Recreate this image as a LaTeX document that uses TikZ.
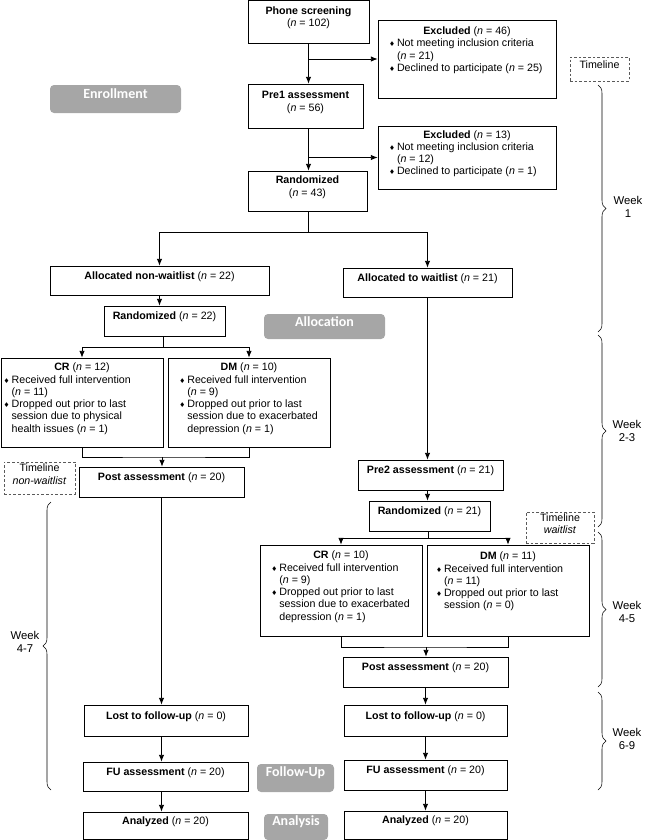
\documentclass[tikz,border=0pt]{standalone}
\usepackage{fontspec}
\setmainfont{Liberation Sans}
\newfontfamily\labelfont{Carlito}
\newfontfamily\symfont{DejaVu Sans}
\usetikzlibrary{arrows.meta,fit,decorations.pathreplacing}
\setlength{\parindent}{0pt}
\definecolor{labelgray}{RGB}{166,166,166}
\definecolor{dashgray}{RGB}{90,90,90}
\newlength{\bpad}
\newcommand{\bul}{\makebox[6pt][l]{\symfont\fontsize{5}{5}\selectfont ♦}}
\newcommand{\ind}{\hspace*{6pt}}
\newcommand{\bline}[1]{\leftline{\hspace*{\bpad}#1}}
\newcommand{\nn}{\textit{n}}
\tikzset{
  boxframe/.style={draw, line width=0.6pt, inner sep=0pt, font=\fontsize{8}{9.2}\selectfont},
  box/.style={boxframe, align=center},
  listbox/.style={boxframe, execute at begin node={\setlength{\bpad}{#1}}},
  phase/.style={fill=labelgray, rounded corners=3pt, inner sep=0pt, text=white, font=\labelfont\bfseries\fontsize{10.5}{12}\selectfont},
  timebox/.style={draw=dashgray, dash pattern=on 2pt off 1.5pt, line width=0.5pt, inner sep=0pt, align=center, font=\fontsize{8}{9.2}\selectfont},
  weeklabel/.style={align=center, inner sep=0pt, font=\fontsize{8.5}{9.8}\selectfont},
  arr/.style={line width=0.6pt, -{Latex[length=5pt,width=4pt]}},
  link/.style={line width=0.6pt},
  wbrace/.style={decorate, decoration={brace, amplitude=6pt}, line width=0.4pt}
}
\begin{document}
\begin{tikzpicture}[x=0.75pt,y=0.75pt,yscale=-1,xscale=1]
\useasboundingbox (0,0) rectangle (644,840);

%Shape: Rectangle -- enrollment
\node[box, fit={(248,0) (369,43)}] (phone) {\textbf{Phone screening}\\(\nn{} = 102)};
\node[listbox=8.25pt, fit={(378,20) (556,98)}] (excl1) {\centerline{\textbf{Excluded} (\nn{} = 46)}
\bline{\bul Not meeting inclusion criteria}
\bline{\ind(\nn{} = 21)}
\bline{\bul Declined to participate (\nn{} = 25)}
\leftline{}};
\node[box, fit={(248,84) (363,128)}] (pre1) {\textbf{Pre1 assessment}\\(\nn{} = 56)};
\node[listbox=8.25pt, fit={(378,126) (556,189)}] (excl2) {\centerline{\textbf{Excluded} (\nn{} = 13)}
\bline{\bul Not meeting inclusion criteria}
\bline{\ind(\nn{} = 12)}
\bline{\bul Declined to participate (\nn{} = 1)}};
\node[box, fit={(248,171) (367,211)}] (rand1) {\textbf{Randomized}\\(\nn{} = 43)};

%Shape: Rectangle -- allocation
\node[box, fit={(50,266) (269,295)}] (allocnw) {\textbf{Allocated non-waitlist} (\nn{} = 22)};
\node[box, fit={(343,268) (512,297)}] (allocw) {\textbf{Allocated to waitlist} (\nn{} = 21)};
\node[box, fit={(104,306) (225,336)}] (rand22) {\textbf{Randomized} (\nn{} = 22)};
\node[listbox=2pt, fit={(1,358) (163,447)}] (cr1) {\centerline{\textbf{CR} (\nn{} = 12)}
\bline{\bul Received full intervention}
\bline{\ind(\nn{} = 11)}
\bline{\bul Dropped out prior to last}
\bline{\ind session due to physical}
\bline{\ind health issues (\nn{} = 1)}};
\node[listbox=8.5pt, fit={(168,358) (330,447)}] (dm1) {\centerline{\textbf{DM} (\nn{} = 10)}
\bline{\bul Received full intervention}
\bline{\ind(\nn{} = 9)}
\bline{\bul Dropped out prior to last}
\bline{\ind session due to exacerbated}
\bline{\ind depression (\nn{} = 1)}};
\node[box, fit={(79,467) (244,497)}] (post1) {\textbf{Post assessment} (\nn{} = 20)};

%Shape: Rectangle -- waitlist
\node[box, fit={(358,460) (503,490)}] (pre2) {\textbf{Pre2 assessment} (\nn{} = 21)};
\node[box, fit={(369,501) (490,531)}] (rand21) {\textbf{Randomized} (\nn{} = 21)};
\node[listbox=8.5pt, fit={(260,545) (422,636)}] (cr2) {\centerline{\textbf{CR} (\nn{} = 10)}
\bline{\bul Received full intervention}
\bline{\ind(\nn{} = 9)}
\bline{\bul Dropped out prior to last}
\bline{\ind session due to exacerbated}
\bline{\ind depression (\nn{} = 1)}};
\node[listbox=6.75pt, fit={(427,545) (589,636)}] (dm2) {\centerline{\textbf{DM} (\nn{} = 11)}
\bline{\bul Received full intervention}
\bline{\ind(\nn{} = 11)}
\bline{\bul Dropped out prior to last}
\bline{\ind session (\nn{} = 0)}
\leftline{}};
\node[box, fit={(343,657) (508,687)}] (post2) {\textbf{Post assessment} (\nn{} = 20)};

%Shape: Rectangle -- follow-up and analysis
\node[box, fit={(84,705) (248,736)}] (lost1) {\textbf{Lost to follow-up} (\nn{} = 0)};
\node[box, fit={(344,705) (507,736)}] (lost2) {\textbf{Lost to follow-up} (\nn{} = 0)};
\node[box, fit={(83,762) (248,791)}] (fu1) {\textbf{FU assessment} (\nn{} = 20)};
\node[box, fit={(344,760) (507,790)}] (fu2) {\textbf{FU assessment} (\nn{} = 20)};
\node[box, fit={(83,812) (248,839)}] (an1) {\textbf{Analyzed} (\nn{} = 20)};
\node[box, fit={(344,811) (507,839)}] (an2) {\textbf{Analyzed} (\nn{} = 20)};

% Phase labels
\node[phase, fit={(50,85) (181,113)}] (enroll) {Enrollment};
\node[phase, fit={(264,314) (385,339)}] (allocation) {Allocation};
\node[phase, fit={(257,764) (334,792)}] (followup) {Follow-Up};
\node[phase, fit={(264,814) (328,840)}] (analysis) {Analysis};

% Timeline boxes
\node[timebox, fit={(570,57) (629,81)}] (tl1) {Timeline};
\node[timebox, fit={(4,462) (75,494)}] (tlnw) {Timeline\\\textit{non-waitlist}};
\node[timebox, fit={(526,512) (594,543)}] (tlw) {Timeline\\\textit{waitlist}};

% Week labels
\node[weeklabel] (wk1) at (628,207) {Week\\1};
\node[weeklabel] (wk23) at (627,431) {Week\\2-3};
\node[weeklabel] (wk45) at (627,612) {Week\\4-5};
\node[weeklabel] (wk69) at (627,739) {Week\\6-9};
\node[weeklabel] (wk47) at (25,642) {Week\\4-7};

%Braces
\draw[wbrace] (598,85) -- (598,332);
\draw[wbrace] (598,335) -- (598,527);
\draw[wbrace] (598,532) -- (598,687);
\draw[wbrace] (598,692) -- (598,790);
\draw[wbrace] (51,790) -- (51,502);

%Straight Lines -- enrollment
\draw[arr] (phone.south) -- (phone.south |- pre1.north);
\draw[arr] (phone.south |- excl1.west) -- (excl1.west);
\draw[arr] (phone.south |- pre1.south) -- (phone.south |- rand1.north);
\draw[arr] (phone.south |- excl2.west) -- (excl2.west);

%Straight Lines -- allocation
\coordinate (split1) at (308,232);
\draw[link] (split1 |- rand1.south) -- (split1);
\draw[arr] (split1) -| (allocnw.north);
\draw[arr] (split1) -| (allocw.north);
\draw[arr] (allocnw.south) -- (allocnw.south |- rand22.north);
\coordinate (split2) at (163,347);
\draw[link] (split2 |- rand22.south) -- (split2);
\draw[arr] (split2) -| (cr1.north);
\draw[arr] (split2) -| (dm1.north);
\coordinate (merge1) at (162,457);
\draw[link] (cr1.south) |- (merge1) -| (dm1.south);
\draw[arr] (merge1) -- (merge1 |- post1.north);

%Straight Lines -- waitlist
\draw[arr] (allocw.south) -- (allocw.south |- pre2.north);
\draw[arr] (allocw.south |- pre2.south) -- (allocw.south |- rand21.north);
\coordinate (split3) at (428,538);
\draw[link] (split3 |- rand21.south) -- (split3);
\draw[arr] (split3) -| (cr2.north);
\draw[arr] (split3) -| (dm2.north);
\coordinate (merge2) at (426,647);
\draw[link] (cr2.south) |- (merge2) -| (dm2.south);
\draw[arr] (merge2) -- (merge2 |- post2.north);

%Straight Lines -- follow-up
\draw[arr] (post1.south) -- (post1.south |- lost1.north);
\draw[arr] (post1.south |- lost1.south) -- (post1.south |- fu1.north);
\draw[arr] (post1.south |- fu1.south) -- (post1.south |- an1.north);
\draw[arr] (post2.south) -- (lost2.north);
\draw[arr] (lost2.south) -- (fu2.north);
\draw[arr] (fu2.south) -- (an2.north);

\end{tikzpicture}
\end{document}
